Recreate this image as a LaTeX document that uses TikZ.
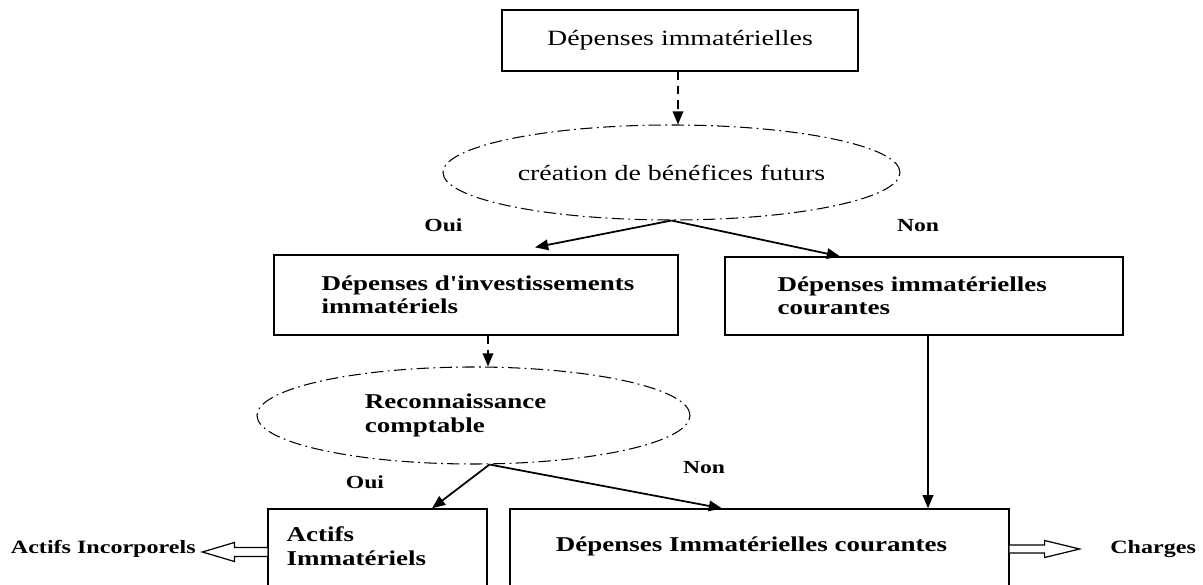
\documentclass[tikz,border=0pt]{standalone}
\usepackage{fontspec}
\setmainfont{Liberation Serif}[FakeStretch=1.28, Ligatures=TeXOff]
\usepackage{tikz}
\usetikzlibrary{calc}
\usetikzlibrary{arrows.meta}
\usetikzlibrary{positioning}
\usetikzlibrary{shapes.geometric}

\begin{document}
\begin{tikzpicture}[
        boite/.style={draw, rectangle, line width=0.7pt, inner sep=0pt},
        bulle/.style={draw, ellipse, line width=0.6pt, inner sep=0pt,
                      dash pattern=on 7pt off 2.5pt on 1pt off 2.5pt},
        texte/.style={font=\fontsize{12}{13.3}\selectfont\bfseries, align=left, inner sep=0pt},
        choix/.style={font=\fontsize{10.5}{12}\selectfont\bfseries, inner sep=0pt},
        sortie/.style={font=\fontsize{10.7}{12}\selectfont\bfseries, inner sep=0pt},
        fleche/.style={line width=1pt, -{Triangle[length=7.5pt, width=6pt]}},
        pointille/.style={fleche, dash pattern=on 5pt off 3pt},
        creuse/.style={line width=0.7pt, fill=white}]
            % Frame to ensure alignment:
            \useasboundingbox                                                 (0.00, 0.00) rectangle (24.06,-11.70);
            \clip                                                             (0.00, 0.00) rectangle (24.06,-11.70);
            % Top of the chart
            \node[boite, minimum width=7.12cm, minimum height=1.22cm,
                  font=\fontsize{12.4}{14}\selectfont] (depenses) at (13.60,-0.81) {Dépenses immatérielles};
            \node[bulle, minimum width=9.14cm, minimum height=1.90cm,
                  font=\fontsize{12.4}{14}\selectfont] (benefices) at (13.43,-3.45) {création de bénéfices futurs};
            \draw[pointille] ([xshift=-0.04cm]depenses.south) -- ([xshift=-0.04cm]depenses.south |- benefices.north);
            % First choice
            \node[boite, minimum width=8.08cm, minimum height=1.60cm] (invest) at ( 9.52,-5.90) {};
            \node[texte, right=0.96cm of invest.west] (investtxt) {Dépenses d'investissements\\immatériels};
            \node[boite, minimum width=7.96cm, minimum height=1.56cm] (courantes) at (18.48,-5.92) {};
            \node[texte, right=1.06cm of courantes.west] (courantestxt) {Dépenses immatérielles\\courantes};
            \draw[fleche] (benefices.south) -- ([xshift=1.18cm, yshift=0.14cm]invest.north);
            \draw[fleche] (benefices.south) -- ([xshift=-1.68cm]courantes.north);
            \node[choix] (oui1) at ( 8.87,-4.50) {Oui};
            \node[choix] (non1) at (18.36,-4.52) {Non};
            % Second choice
            \node[bulle, minimum width=8.66cm, minimum height=1.94cm] (reconn) at ( 9.47,-8.31) {};
            \node[texte, right=2.16cm of reconn.west] (reconntxt) {Reconnaissance\\comptable};
            \draw[pointille] ([xshift=0.24cm]invest.south) -- ([xshift=0.24cm]invest.south |- reconn.north);
            \node[boite, minimum width=4.38cm, minimum height=1.72cm] (actifs) at ( 7.55,-11.04) {};
            \node[texte, right=0.38cm of actifs.west, yshift=0.12cm] (actifstxt) {Actifs\\Immatériels};
            \node[boite, minimum width=9.98cm, minimum height=1.60cm] (charges) at (15.19,-10.98) {};
            \node[texte] (chargestxt) at ([xshift=-0.16cm, yshift=0.06cm]charges.center) {Dépenses Immatérielles courantes};
            \draw[fleche] ([xshift=0.32cm]reconn.south) -- ([xshift=1.09cm]actifs.north);
            \draw[fleche] ([xshift=0.32cm]reconn.south) -- ([xshift=-0.75cm]charges.north);
            \draw[fleche] ([xshift=0.08cm]courantes.south) -- ([xshift=0.08cm]courantes.south |- charges.north);
            \node[choix] (oui2) at ( 7.30,-9.64) {Oui};
            \node[choix] (non2) at (14.08,-9.36) {Non};
            % Outputs
            \node[sortie, anchor=east] (incorp) at ( 3.92,-10.98) {Actifs Incorporels};
            \node[sortie, anchor=west] (charge) at (22.20,-10.98) {Charges};
            \draw[creuse] ([yshift=0.09cm]actifs.west) -- ++(-0.66, 0.00) -- ++( 0.00, 0.10)
                 -- ++(-0.64,-0.19) -- ++( 0.64,-0.19) -- ++( 0.00, 0.10) -- ++( 0.66, 0.00);
            \draw[creuse] ([yshift=0.08cm]charges.east) -- ++( 0.70, 0.00) -- ++( 0.00, 0.09)
                 -- ++( 0.70,-0.17) -- ++(-0.70,-0.17) -- ++( 0.00, 0.09) -- ++(-0.70, 0.00);
\end{tikzpicture}
\end{document}
